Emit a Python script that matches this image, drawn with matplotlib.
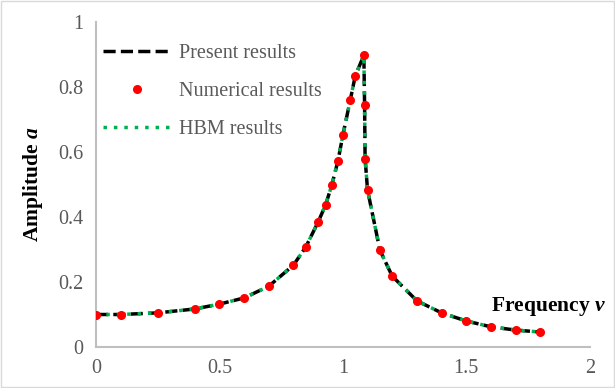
import matplotlib.pyplot as plt
from matplotlib.patches import Rectangle

plt.rcParams['font.family'] = ['Liberation Serif', 'DejaVu Serif']
plt.rcParams['mathtext.fontset'] = 'custom'
plt.rcParams['mathtext.bfit'] = 'Liberation Serif:italic:bold'
plt.rcParams['mathtext.rm'] = 'Liberation Serif'

# curve data (present / HBM)
freq_curve = [0, 0.1, 0.25, 0.4, 0.5, 0.6, 0.7, 0.8, 0.85, 0.9, 0.93, 0.955,
              0.98, 1.0, 1.03, 1.05, 1.085, 1.088, 1.09, 1.10, 1.15, 1.2,
              1.3, 1.4, 1.5, 1.6, 1.7, 1.8]
amp_present = [0.1, 0.1, 0.105, 0.117, 0.132, 0.151, 0.187, 0.252, 0.308,
               0.385, 0.437, 0.498, 0.572, 0.652, 0.76, 0.834, 0.898, 0.745,
               0.58, 0.483, 0.298, 0.218, 0.142, 0.105, 0.08, 0.062, 0.052,
               0.046]
amp_hbm = list(amp_present)

# numerical points
freq_num = list(freq_curve)
amp_num = [0.1, 0.1, 0.105, 0.117, 0.132, 0.151, 0.187, 0.252, 0.308,
           0.385, 0.437, 0.498, 0.572, 0.652, 0.76, 0.834, 0.898, 0.745,
           0.58, 0.483, 0.298, 0.218, 0.142, 0.105, 0.08, 0.062, 0.052,
           0.046]

fig = plt.figure(figsize=(6.15, 3.88), dpi=100)
ax = fig.add_axes([0.156, 0.1057, 0.803, 0.8373])

ax.plot(freq_curve, amp_present, color='black', ls=(0, (3.5, 1.5)), lw=2.5,
        label='Present results', zorder=2)
ax.plot(freq_num, amp_num, ls='none', marker='o', ms=5.5, color='#ff0000',
        label='Numerical results', zorder=4)
ax.plot(freq_curve, amp_hbm, color='#00b050', ls=(0, (1, 2)), lw=2.5,
        label='HBM results', zorder=3)

ax.set_xlim(0, 2)
ax.set_ylim(0, 1)
ax.set_xticks([0, 0.5, 1, 1.5, 2])
ax.set_xticklabels(['0', '0.5', '1', '1.5', '2'])
ax.set_yticks([0, 0.2, 0.4, 0.6, 0.8, 1])
ax.set_yticklabels(['0', '0.2', '0.4', '0.6', '0.8', '1'])
ax.tick_params(length=0, labelsize=14.5, labelcolor='#595959', pad=9)

for s in ['top', 'right']:
    ax.spines[s].set_visible(False)
for s in ['left', 'bottom']:
    ax.spines[s].set_color('#bfbfbf')
    ax.spines[s].set_linewidth(1.5)

ax.text(2.065, 0.125, r'Frequency $\mathbfit{\nu}$', ha='right', va='center',
        fontsize=15.5, fontweight='bold', clip_on=False)
fig.text(0.054, 0.525, r'Amplitude $\mathbfit{a}$', rotation=90, ha='center',
         va='center', fontsize=15.5, fontweight='bold')

leg = ax.legend(loc='upper left', bbox_to_anchor=(-0.022, 0.99), frameon=False,
                fontsize=14.5, labelspacing=0.95, handlelength=3.4,
                handletextpad=0.35, labelcolor='#595959')

fig.add_artist(Rectangle((0.002, 0.003), 0.996, 0.994, transform=fig.transFigure,
                         fill=False, edgecolor='#d9d9d9', lw=1))

fig.savefig('out.png', dpi=100)
